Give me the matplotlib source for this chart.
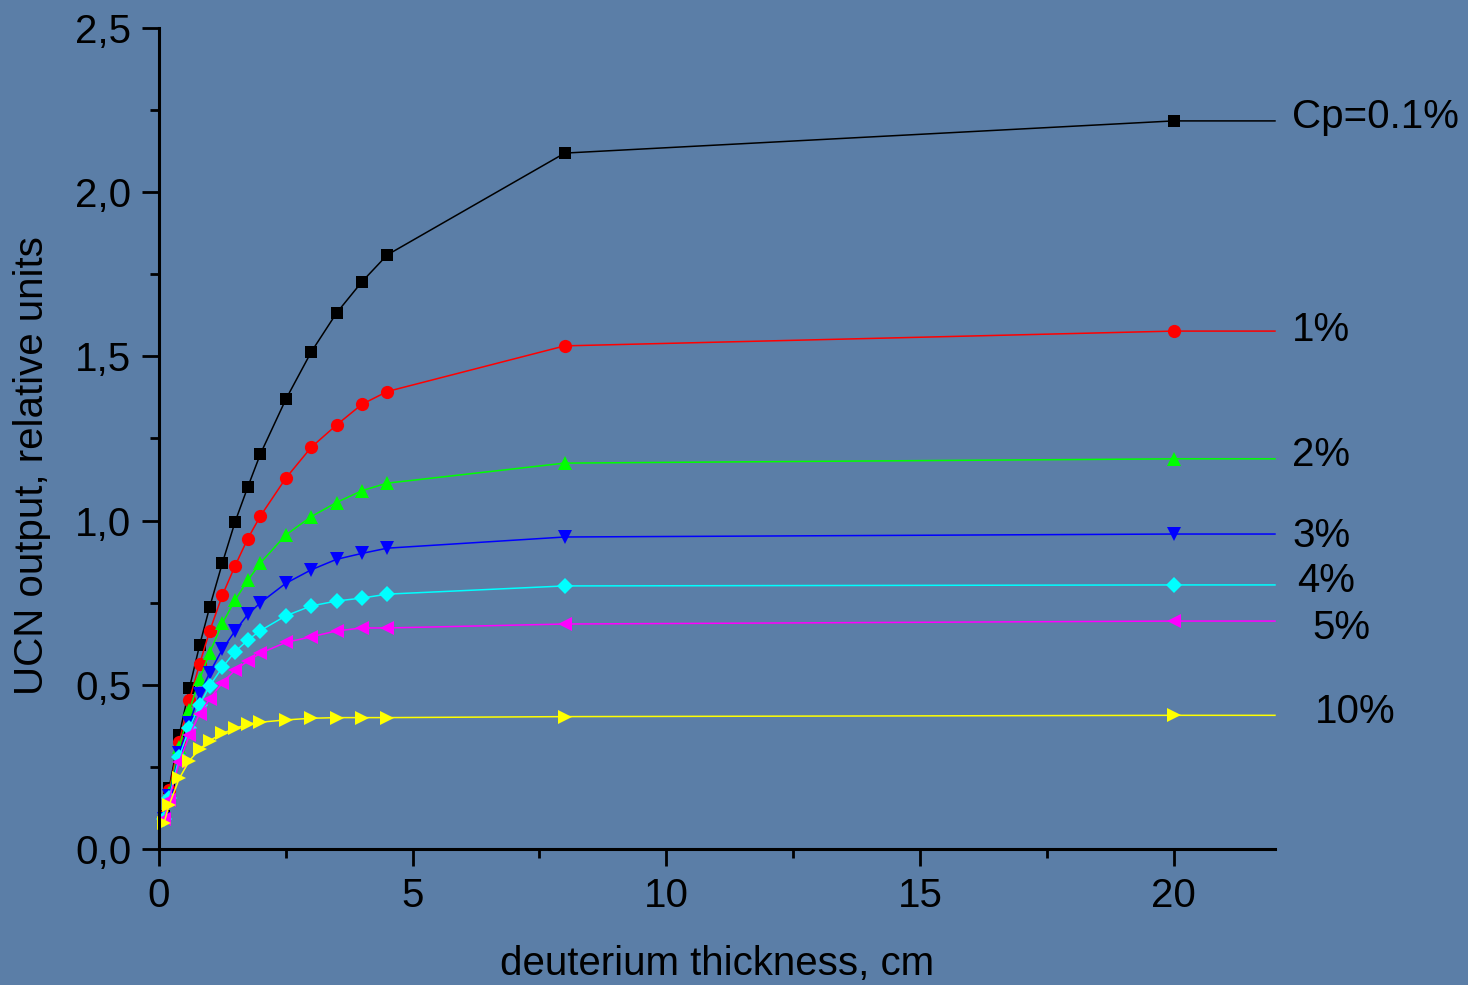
import matplotlib
matplotlib.use("Agg")
import matplotlib.pyplot as plt
from matplotlib.ticker import MultipleLocator, FuncFormatter

plt.rcParams['font.family'] = ['Liberation Sans', 'DejaVu Sans']

# deuterium thickness, cm (last point just carries the curve to the axis end)
thickness = [0.1, 0.2, 0.4, 0.6, 0.8, 1.0, 1.25, 1.5, 1.75, 2.0,
             2.5, 3.0, 3.5, 4.0, 4.5, 8.0, 20.0, 22.0]

# UCN output for each para-deuterium concentration
cp_01 = [0.10, 0.186, 0.347, 0.49, 0.62, 0.737, 0.871, 0.996, 1.102, 1.203,
         1.369, 1.513, 1.632, 1.727, 1.809, 2.119, 2.217, 2.217]
cp_1 = [0.10, 0.18, 0.327, 0.454, 0.563, 0.664, 0.773, 0.862, 0.945, 1.014,
        1.129, 1.223, 1.291, 1.354, 1.393, 1.532, 1.577, 1.577]
cp_2 = [0.095, 0.17, 0.31, 0.423, 0.517, 0.598, 0.687, 0.758, 0.818, 0.871,
        0.956, 1.012, 1.055, 1.091, 1.114, 1.175, 1.188, 1.188]
cp_3 = [0.09, 0.16, 0.293, 0.385, 0.471, 0.537, 0.608, 0.664, 0.714, 0.750,
        0.809, 0.850, 0.882, 0.900, 0.916, 0.950, 0.959, 0.959]
cp_4 = [0.09, 0.155, 0.281, 0.369, 0.438, 0.497, 0.553, 0.601, 0.636, 0.665,
        0.710, 0.740, 0.755, 0.764, 0.776, 0.801, 0.804, 0.804]
cp_5 = [0.09, 0.15, 0.266, 0.347, 0.411, 0.457, 0.506, 0.545, 0.572, 0.596,
        0.629, 0.646, 0.664, 0.673, 0.673, 0.685, 0.694, 0.694]
cp_10 = [0.079, 0.134, 0.215, 0.269, 0.304, 0.330, 0.352, 0.367, 0.380, 0.386,
         0.393, 0.398, 0.400, 0.400, 0.400, 0.403, 0.407, 0.407]

series = [cp_01, cp_1, cp_2, cp_3, cp_4, cp_5, cp_10]
labels = ["Cp=0.1%", "1%", "2%", "3%", "4%", "5%", "10%"]
colors = ["black", "#ff0000", "#00ff00", "#0000ff", "#00ffff", "#ff00ff", "#ffff00"]
markers = ["s", "o", "^", "v", "D", "<", ">"]
msizes = [8.5, 9.5, 10.5, 10.5, 8.5, 10.5, 10.5]
# label anchor: x offset and y position next to the right end of each curve
label_x = [22.34, 22.34, 22.34, 22.34, 22.44, 22.74, 22.78]
label_y = [2.229, 1.580, 1.200, 0.953, 0.816, 0.673, 0.417]

bg = "#5b7ea7"
fig = plt.figure(figsize=(14.68, 9.85), dpi=100, facecolor=bg)
ax = fig.add_axes([0.1083, 0.1381, 0.7602, 0.8335])
ax.set_facecolor(bg)

for ys, c, m, ms in zip(series, colors, markers, msizes):
    ax.plot(thickness, ys, color=c, lw=1.1, marker=m, ms=ms,
            markevery=slice(0, len(thickness) - 1), markeredgewidth=0,
            clip_on=False)

for lab, lx, ly in zip(labels, label_x, label_y):
    ax.text(lx, ly, lab, fontsize=29, va='center', ha='left', color='black',
            clip_on=False)

ax.set_xlim(0, 22)
ax.set_ylim(0, 2.5)
ax.xaxis.set_major_locator(MultipleLocator(5))
ax.xaxis.set_minor_locator(MultipleLocator(2.5))
ax.yaxis.set_major_locator(MultipleLocator(0.5))
ax.yaxis.set_minor_locator(MultipleLocator(0.25))
ax.yaxis.set_major_formatter(FuncFormatter(lambda v, p: f"{v:.1f}".replace(".", ",")))

for side in ("top", "right"):
    ax.spines[side].set_visible(False)
for side in ("left", "bottom"):
    ax.spines[side].set_linewidth(2.2)

ax.tick_params(which='major', direction='out', length=12, width=2, labelsize=29,
               pad=8)
ax.tick_params(which='minor', direction='out', length=6.5, width=2)

ax.set_xlabel("deuterium thickness, cm", fontsize=29)
ax.set_ylabel("UCN output, relative units", fontsize=29)
ax.xaxis.set_label_coords(0.5, -0.117)
ax.yaxis.set_label_coords(-0.097, 0.467)

fig.savefig("out.png", dpi=100, facecolor=bg)
